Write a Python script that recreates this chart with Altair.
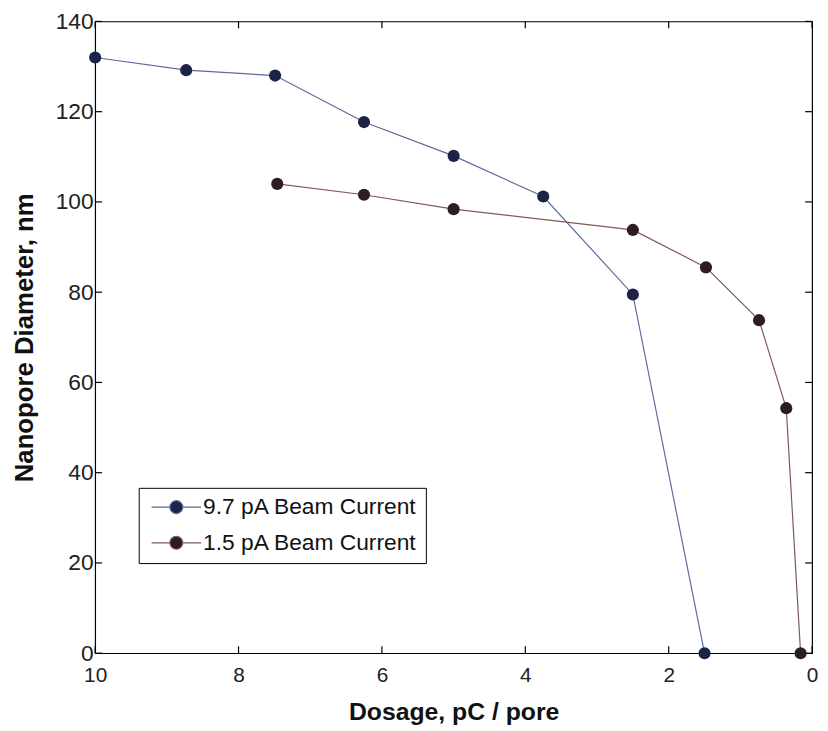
import altair as alt
import pandas as pd

series_names = ["9.7 pA Beam Current", "1.5 pA Beam Current"]

blue_x = [10.0, 8.73, 7.49, 6.25, 5.0, 3.75, 2.5, 1.5]
blue_y = [132.0, 129.2, 128.0, 117.7, 110.2, 101.2, 79.5, 0.0]

brown_x = [7.46, 6.25, 5.0, 2.5, 1.48, 0.74, 0.36, 0.16]
brown_y = [104.0, 101.6, 98.4, 93.8, 85.5, 73.8, 54.3, 0.0]

x_ticks = [0, 2, 4, 6, 8, 10]
y_ticks = [0, 20, 40, 60, 80, 100, 120, 140]

marker_colors = ["#1b2447", "#2e1d1f"]
line_colors = ["#5d6a9e", "#80585a"]

df = pd.DataFrame({
    "dose": blue_x + brown_x,
    "diam": blue_y + brown_y,
    "series": [series_names[0]] * len(blue_x) + [series_names[1]] * len(brown_x),
    "order": list(range(len(blue_x))) + list(range(len(brown_x))),
})
xt = pd.DataFrame({"dose": x_ticks})
yt = pd.DataFrame({"diam": y_ticks})

FONT = "Liberation Sans"
W, H = 724, 638
TL = 7  # inward tick length
xs = alt.Scale(domain=[0, 10], reverse=True, nice=False, zero=False)
ys = alt.Scale(domain=[0, 140], nice=False)

# legend symbol: line - filled circle - line (units of 6.5 px)
legend_path = ("M-1,0L1.846,0M3.846,0L6.69,0"
               "M1.846,0A1,1,0,1,0,3.846,0A1,1,0,1,0,1.846,0Z")

legend = alt.Legend(
    title=None, orient="none", legendX=44, legendY=471,
    symbolType=legend_path, symbolSize=169, symbolStrokeWidth=1.2,
    labelFont=FONT, labelFontSize=23, labelColor="#111", labelLimit=400,
    labelOffset=34, rowPadding=12, padding=8,
    strokeColor="black", fillColor="white",
)

x_axis_main = alt.Axis(values=x_ticks, title="Dosage, pC / pore", orient="bottom",
                       labelFlush=False, ticks=False, labelPadding=12,
                       labelFontSize=21, titleFontSize=25,
                       grid=False, domain=False, titlePadding=14)
y_axis_main = alt.Axis(values=y_ticks, title="Nanopore Diameter, nm", orient="left",
                       ticks=False, labelPadding=2, labelFontSize=23,
                       titleFontSize=26, grid=False, domain=False, titlePadding=18)

X = alt.X("dose:Q", scale=xs, axis=x_axis_main)
Y = alt.Y("diam:Q", scale=ys, axis=y_axis_main)

color_scale_stroke = alt.Scale(domain=series_names, range=line_colors)
color_scale_fill = alt.Scale(domain=series_names, range=marker_colors)

lines = alt.Chart(df).mark_line(strokeWidth=1.2).encode(
    x=X, y=Y,
    stroke=alt.Stroke("series:N", scale=color_scale_stroke, legend=legend),
    order="order:Q",
)

points = alt.Chart(df).mark_point(filled=True, size=150, strokeWidth=0, opacity=1).encode(
    x=X, y=Y,
    fill=alt.Fill("series:N", scale=color_scale_fill, legend=legend),
    stroke=alt.Stroke("series:N", scale=color_scale_stroke, legend=legend),
)

tick_style = dict(color="black", strokeWidth=1.2)
x_ticks_bottom = alt.Chart(xt).mark_rule(**tick_style).encode(
    x=X, y=alt.value(H), y2=alt.value(H - TL))
x_ticks_top = alt.Chart(xt).mark_rule(**tick_style).encode(
    x=X, y=alt.value(0), y2=alt.value(TL))
y_ticks_left = alt.Chart(yt).mark_rule(**tick_style).encode(
    y=Y, x=alt.value(0), x2=alt.value(TL))
y_ticks_right = alt.Chart(yt).mark_rule(**tick_style).encode(
    y=Y, x=alt.value(W), x2=alt.value(W - TL))

chart = alt.layer(
    lines, x_ticks_bottom, x_ticks_top, y_ticks_left, y_ticks_right, points
).properties(
    width=W, height=H,
    autosize=alt.AutoSizeParams(type="none"),
    padding={"left": 88, "top": 10, "right": 8, "bottom": 75},
).configure_view(
    stroke="black", strokeWidth=1.2
).configure_axis(
    labelFont=FONT, labelColor="#222",
    titleFont=FONT, titleFontWeight="bold", titleColor="#111",
)

chart.save("out.html", embed_options={"renderer": "svg", "actions": False})
